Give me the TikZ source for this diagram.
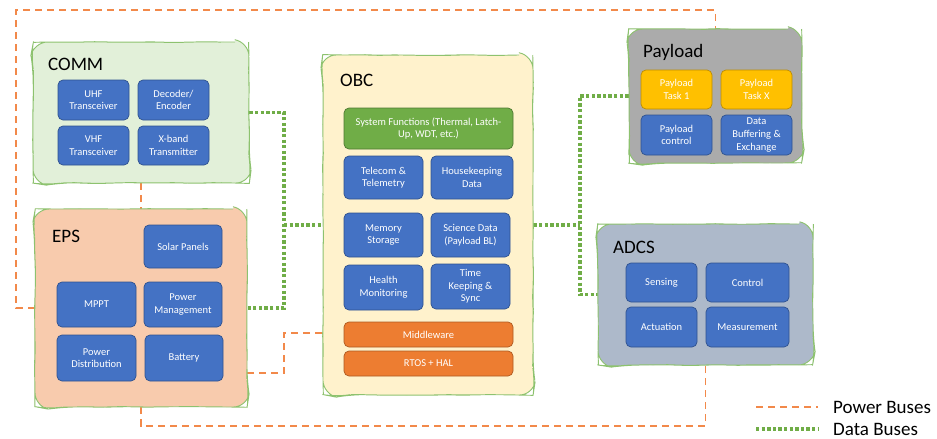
\documentclass[tikz,border=0pt]{standalone}
\usepackage{fontspec}
\setmainfont{Carlito}
\usetikzlibrary{backgrounds,decorations.pathmorphing}

\definecolor{unitblue}{HTML}{4472C4}
\definecolor{unitedge}{HTML}{2F528F}
\definecolor{fngreen}{HTML}{70AD47}
\definecolor{mworange}{HTML}{ED7D31}
\definecolor{mwedge}{HTML}{AE5A21}
\definecolor{taskyellow}{HTML}{FFC000}
\definecolor{taskedge}{HTML}{BC8C00}
\definecolor{groupedge}{HTML}{8DC26F}
\definecolor{commfill}{HTML}{E2F0D9}
\definecolor{epsfill}{HTML}{F8CBAD}
\definecolor{obcfill}{HTML}{FFF2CC}
\definecolor{payfill}{HTML}{ABABAB}
\definecolor{adcsfill}{HTML}{ADB9CA}
\definecolor{powerline}{HTML}{F2894A}
\definecolor{dataline}{HTML}{70AD47}

\tikzset{
  group/.style={draw=groupedge, line width=0.9pt, rounded corners=14pt,
    decorate, decoration={random steps, segment length=14pt, amplitude=0.45pt}},
  grouptitle/.style={anchor=base west, inner sep=0pt, font=\fontsize{19}{22}\selectfont},
  unit/.style={draw=unitedge, fill=unitblue, line width=0.7pt, rounded corners=5pt,
    text=white, align=center, inner sep=1pt,
    font=\fontsize{10.5}{12.6}\selectfont},
  fnbox/.style={unit, fill=fngreen, draw=fngreen!70!black},
  mwbox/.style={unit, fill=mworange, draw=mwedge},
  taskbox/.style={unit, fill=taskyellow, draw=taskedge},
  power/.style={draw=powerline, line width=1.4pt, dash pattern=on 7pt off 5pt},
  data/.style={draw=dataline, line width=3.3pt, dash pattern=on 3.3pt off 2.3pt},
  legendtext/.style={anchor=base west, inner sep=0pt, font=\fontsize{19}{22}\selectfont},
}

\begin{document}
\pgfmathsetseed{7}
\begin{tikzpicture}[x=1pt, y=-1pt]
\useasboundingbox (0,0) rectangle (937,439);

% ---------------- COMM ----------------
\node[group, fill=commfill, minimum width=216pt, minimum height=141pt] (comm) at (141,112.5) {};
\node[grouptitle] (commt) at (48,70) {COMM};
\node[unit, minimum width=71pt, minimum height=40pt] (uhf) at (93.5,100) {UHF\\Transceiver};
\node[unit, minimum width=71pt, minimum height=40pt] (dec) at (173.5,100) {Decoder/\\Encoder};
\node[unit, minimum width=71pt, minimum height=39pt] (vhf) at (93.5,145.5) {VHF\\Transceiver};
\node[unit, minimum width=71pt, minimum height=39pt] (xband) at (173.5,145.5) {X-band\\Transmitter};

% ---------------- EPS ----------------
\node[group, fill=epsfill, minimum width=212pt, minimum height=198pt] (eps) at (141,308) {};
\node[grouptitle] (epst) at (52,242) {EPS};
\node[unit, minimum width=78pt, minimum height=43pt] (solar) at (183,246.5) {Solar Panels};
\node[unit, minimum width=79pt, minimum height=45pt] (mppt) at (96.5,304.5) {MPPT};
\node[unit, minimum width=78pt, minimum height=45pt] (pmgmt) at (183,304.5) {Power\\Management};
\node[unit, minimum width=79pt, minimum height=46pt] (pdist) at (96.5,358) {Power\\Distribution};
\node[unit, minimum width=78pt, minimum height=46pt] (batt) at (184,358) {Battery};

% ---------------- OBC ----------------
\node[group, fill=obcfill, minimum width=210pt, minimum height=340pt] (obc) at (428,225) {};
\node[grouptitle] (obct) at (340,86) {OBC};
\node[fnbox, minimum width=169pt, minimum height=41pt] (sysfn) at (428.5,128.5) {System Functions (Thermal, Latch-\\Up, WDT, etc.)};
\node[unit, minimum width=79pt, minimum height=43pt] (tele) at (383.5,177.5) {Telecom \&\\Telemetry};
\node[unit, minimum width=82pt, minimum height=43pt] (hk) at (472,177.5) {Housekeeping\\Data};
\node[unit, minimum width=79pt, minimum height=44pt] (mem) at (383.5,235) {Memory\\Storage};
\node[unit, minimum width=79pt, minimum height=44pt] (sci) at (470.5,235) {Science Data\\(Payload BL)};
\node[unit, minimum width=79pt, minimum height=45pt] (health) at (383.5,287.5) {Health\\Monitoring};
\node[unit, minimum width=79pt, minimum height=45pt] (time) at (470.5,286.5) {Time\\Keeping \&\\Sync};
\node[mwbox, minimum width=169pt, minimum height=25pt] (mw) at (428.5,334.5) {Middleware};
\node[mwbox, minimum width=169pt, minimum height=25pt] (rtos) at (428.5,363.5) {RTOS + HAL};

% ---------------- Payload ----------------
\node[group, fill=payfill, minimum width=173pt, minimum height=134pt] (pay) at (715.5,96) {};
\node[grouptitle] (payt) at (643,57) {Payload};
\node[taskbox, minimum width=71pt, minimum height=39pt] (task1) at (676.5,89.5) {Payload\\Task 1};
\node[taskbox, minimum width=71pt, minimum height=39pt] (taskx) at (756.5,89.5) {Payload\\Task X};
\node[unit, minimum width=71pt, minimum height=40pt] (pctrl) at (676.5,135) {Payload\\control};
\node[unit, minimum width=71pt, minimum height=40pt] (dbuf) at (756.5,135) {Data\\Buffering \&\\Exchange};

% ---------------- ADCS ----------------
\node[group, fill=adcsfill, minimum width=215pt, minimum height=141pt] (adcs) at (705.5,294.5) {};
\node[grouptitle] (adcst) at (613,253) {ADCS};
\node[unit, minimum width=71pt, minimum height=39pt] (sens) at (661.5,282.5) {Sensing};
\node[unit, minimum width=83pt, minimum height=39pt] (ctrl) at (747.5,282.5) {Control};
\node[unit, minimum width=71pt, minimum height=40pt] (act) at (661.5,327) {Actuation};
\node[unit, minimum width=83pt, minimum height=40pt] (meas) at (747.5,327) {Measurement};

% ---------------- Bus routing points ----------------
\coordinate (lbusT) at (284,112.5);
\coordinate (lbusB) at (284,308);
\coordinate (lbusM) at (284,225);
\coordinate (rbusT) at (580,96);
\coordinate (rbusB) at (580,294.5);
\coordinate (rbusM) at (580,225);
\coordinate (pwrL) at (16,308);
\coordinate (pwrTL) at (16,10);
\coordinate (pwrTR) at (715.5,10);
\coordinate (pwrE1) at (284,373);
\coordinate (pwrE2) at (284,333);
\coordinate (pwrB1) at (141,426);
\coordinate (pwrB2) at (705.5,426);

\begin{pgfonlayer}{background}
  % power buses
  \draw[power] (eps.west) -- (pwrL) -- (pwrTL) -- (pwrTR) -- (pay.north);
  \draw[power] (comm.south) -- (eps.north);
  \draw[power] (eps.east |- pwrE1) -- (pwrE1) -- (pwrE2) -- (obc.west |- pwrE2);
  \draw[power] (eps.south) -- (pwrB1) -- (pwrB2) -- (adcs.south);
  % data buses
  \draw[data] (comm.east) -- (lbusT) -- (lbusB) -- (eps.east);
  \draw[data] (lbusM) -- (obc.west);
  \draw[data] (obc.east) -- (rbusM);
  \draw[data] (pay.west) -- (rbusT) -- (rbusB) -- (adcs.west);
\end{pgfonlayer}

% ---------------- Legend ----------------
\coordinate (lgP1) at (756,407);
\coordinate (lgP2) at (818,407);
\coordinate (lgD1) at (756,429);
\coordinate (lgD2) at (818,429);
\draw[power] (lgP1) -- (lgP2);
\draw[data] (lgD1) -- (lgD2);
\node[legendtext] (lgPt) at (833,413) {Power Buses};
\node[legendtext] (lgDt) at (833,435) {Data Buses};
\end{tikzpicture}
\end{document}
